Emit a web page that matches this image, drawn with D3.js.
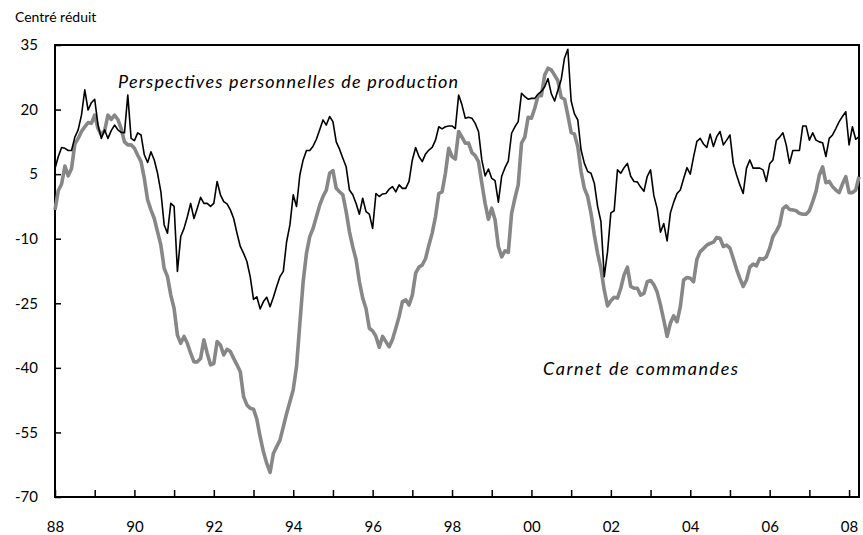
<html>
<head>
<style>
  body { margin: 0; background: #fff; }
  svg text { font-family: Lato, "Open Sans", sans-serif; fill: #000; }
  .axis path { display: none; }
  .axis line { stroke: #000; stroke-width: 1.5; }
  .axis text { font-size: 15px; }
</style>
</head>
<script src="https://d3js.org/d3.v7.min.js"></script>
<body>
<div id="chart"></div>
<script>

// monthly series, January 1988 onwards
var startYear = 1988;

var perspectives = [
  6.3, 9.1, 11.2, 11.0, 10.5, 10.5, 13.6, 15.3, 18.7, 24.6, 19.9, 21.6,
  22.4, 16.4, 13.3, 15.3, 13.3, 15.1, 16.4, 15.3, 14.7, 14.6, 23.4, 13.3,
  12.8, 14.6, 14.1, 9.5, 7.7, 10.2, 8.3, 5.2, 0.9, -6.8, -8.7, -1.8,
  -2.5, -17.6, -9.5, -7.6, -4.9, -1.8, -5.3, -2.9, -0.4, -1.8, -1.8, -2.5,
  -1.8, 3.3, 0.2, -1.4, -1.9, -3.3, -5.3, -8.7, -11.8, -13.4, -15.3, -18.8,
  -24.1, -23.5, -26.3, -24.6, -23.6, -25.8, -23.6, -21.1, -18.8, -17.6, -10.7, -6.8,
  0.2, -2.5, 4.8, 8.3, 10.5, 10.5, 11.5, 13.1, 15.3, 17.6, 16.4, 18.4,
  17.2, 12.5, 10.8, 8.7, 6.7, 1.3, 0.2, -1.8, -4.3, -0.6, -3.7, -4.3,
  -7.6, 0.5, -0.2, 0.4, 0.5, 1.5, 2.1, 0.9, 2.5, 1.7, 1.7, 3.3,
  8.3, 11.2, 9.1, 7.9, 9.7, 10.6, 11.2, 12.9, 16.0, 15.5, 16.0, 16.2,
  16.2, 15.6, 23.4, 21.1, 18.0, 18.2, 18.0, 16.8, 14.9, 8.3, 4.6, 6.2,
  4.0, 3.5, -1.5, 4.5, 6.5, 8.0, 14.5, 16.0, 17.2, 23.8, 23.0, 22.4,
  22.6, 22.6, 23.6, 24.2, 25.3, 27.2, 23.7, 22.0, 24.5, 27.0, 32.0, 34.0,
  22.0, 19.0, 17.6, 10.6, 7.5, 5.6, 5.2, 2.9, -2.5, -6.0, -18.8, -13.0,
  -4.0, -3.5, 6.0, 5.2, 6.5, 7.5, 4.5, 3.3, 3.2, 2.0, 1.0, 4.5,
  6.0, 0.0, -3.0, -8.5, -6.5, -10.5, -4.0, -1.5, 0.5, 1.3, 4.0, 6.5,
  5.0, 9.0, 12.6, 13.3, 12.0, 11.2, 14.3, 11.4, 13.7, 14.9, 11.8, 12.9,
  14.1, 7.5, 4.8, 2.5, 0.5, 6.4, 8.3, 6.4, 6.4, 6.4, 6.0, 3.3,
  7.4, 8.3, 12.8, 13.6, 14.6, 11.8, 7.5, 10.5, 10.5, 10.5, 16.2, 16.2,
  12.9, 14.6, 12.9, 12.5, 12.3, 9.1, 13.3, 14.1, 15.6, 17.2, 18.4, 19.5,
  11.8, 16.0, 13.1, 13.7
];

var carnet = [
  -3.3, 1.2, 2.7, 6.9, 4.6, 6.3, 12.0, 13.3, 14.9, 16.0, 17.0, 16.8,
  18.7, 15.6, 14.1, 15.1, 18.7, 17.7, 18.7, 17.7, 15.6, 12.5, 11.8, 11.8,
  11.0, 9.4, 7.9, 4.0, -1.0, -3.3, -5.3, -8.4, -11.5, -16.9, -18.8, -23.1,
  -26.2, -32.4, -34.3, -32.7, -34.3, -36.6, -38.6, -38.6, -37.8, -33.5, -36.6, -39.3,
  -39.0, -33.9, -34.7, -37.0, -35.7, -36.2, -37.8, -39.3, -40.9, -46.7, -48.6, -49.4,
  -49.6, -51.9, -56.0, -59.5, -62.2, -64.3, -59.9, -58.3, -56.8, -53.7, -50.6, -47.9,
  -45.1, -39.7, -29.7, -20.0, -13.4, -9.5, -7.6, -4.9, -2.2, -0.2, 1.3, 5.2,
  5.8, 1.7, 0.9, 0.2, -3.7, -8.4, -11.9, -14.9, -20.0, -23.8, -26.2, -30.8,
  -31.4, -32.7, -35.2, -32.7, -33.9, -35.1, -33.4, -30.8, -28.1, -24.6, -24.2, -25.4,
  -23.1, -18.0, -16.6, -16.1, -14.6, -11.5, -8.7, -4.9, 0.5, 0.9, 5.2, 11.0,
  9.1, 8.5, 14.9, 13.6, 12.2, 12.2, 10.0, 9.3, 7.9, 2.9, -1.8, -5.5,
  -2.9, -5.6, -11.8, -14.2, -12.8, -13.2, -4.1, -0.6, 2.5, 12.2, 13.6, 18.2,
  18.0, 20.3, 23.2, 23.2, 28.0, 29.6, 29.2, 28.0, 26.7, 22.8, 22.4, 18.7,
  14.7, 14.3, 11.4, 5.6, 1.7, -0.2, -4.1, -9.1, -13.4, -16.9, -21.9, -25.6,
  -24.4, -23.6, -23.8, -21.5, -18.4, -16.6, -21.1, -21.5, -21.5, -23.1, -22.7, -20.0,
  -19.7, -20.7, -22.4, -25.4, -28.9, -32.7, -29.6, -27.9, -29.3, -25.8, -19.6, -19.0,
  -19.2, -20.0, -14.8, -13.0, -12.3, -11.5, -11.1, -10.8, -9.7, -9.9, -11.8, -11.5,
  -12.2, -14.6, -17.1, -19.2, -21.1, -19.6, -16.6, -15.9, -16.3, -14.6, -14.8, -14.2,
  -12.2, -9.5, -8.3, -6.8, -3.0, -2.4, -3.2, -3.3, -3.5, -4.1, -4.3, -4.3,
  -3.5, -1.4, 1.0, 4.8, 6.7, 3.0, 3.3, 2.1, 1.3, 0.7, 2.7, 4.4,
  0.7, 0.7, 1.3, 4.4
];

var yTicks = [-70, -55, -40, -25, -10, 5, 20, 35];
var years = d3.range(1988, 2009);

var margin = {top: 45, right: 4, bottom: 38, left: 55},
    width = 863 - margin.left - margin.right,
    height = 535 - margin.top - margin.bottom;

var svg = d3.select("#chart").append("svg")
    .attr("width", 863)
    .attr("height", 535);

var g = svg.append("g")
    .attr("transform", "translate(" + margin.left + "," + margin.top + ")");

var n = perspectives.length;
var x = d3.scaleLinear().domain([0, n - 1]).range([0, width]);
var y = d3.scaleLinear().domain([-70, 35]).range([height, 0]);

// axes, ticks pointing inside the frame
var xAxis = d3.axisBottom(x)
    .tickValues(years.map(function(yr) { return (yr - startYear) * 12; }))
    .tickSizeInner(-7)
    .tickSizeOuter(0)
    .tickPadding(24)
    .tickFormat(function(m) {
      var yr = startYear + m / 12;
      return yr % 2 === 0 ? String(yr).slice(2) : "";
    });

var yAxis = d3.axisLeft(y)
    .tickValues(yTicks)
    .tickSizeInner(-6)
    .tickSizeOuter(0)
    .tickPadding(17)
    .tickFormat(function(d) { return String(d); });

g.append("g")
    .attr("class", "x axis")
    .attr("transform", "translate(0," + height + ")")
    .call(xAxis);

g.append("g")
    .attr("class", "y axis")
    .call(yAxis);

// frame
g.append("rect")
    .attr("x", 0)
    .attr("y", 0)
    .attr("width", width)
    .attr("height", height)
    .style("fill", "none")
    .style("stroke", "#000")
    .style("stroke-width", 2);

var line = d3.line()
    .x(function(d, i) { return x(i); })
    .y(function(d) { return y(d); });

g.append("path")
    .datum(carnet)
    .attr("d", line)
    .style("fill", "none")
    .style("stroke", "#878787")
    .style("stroke-width", 3.6)
    .style("stroke-linejoin", "round");

g.append("path")
    .datum(perspectives)
    .attr("d", line)
    .style("fill", "none")
    .style("stroke", "#000")
    .style("stroke-width", 1.6)
    .style("stroke-linejoin", "round");

// labels
svg.append("text")
    .attr("x", 15)
    .attr("y", 22)
    .style("font-size", "14px")
    .text("Centré réduit");

svg.append("text")
    .attr("x", 118)
    .attr("y", 88)
    .attr("textLength", 340)
    .attr("lengthAdjust", "spacing")
    .style("font-size", "18px")
    .style("font-style", "italic")
    .text("Perspectives personnelles de production");

svg.append("text")
    .attr("x", 543)
    .attr("y", 375)
    .attr("textLength", 195)
    .attr("lengthAdjust", "spacing")
    .style("font-size", "18px")
    .style("font-style", "italic")
    .text("Carnet de commandes");

</script>
</body>
</html>
